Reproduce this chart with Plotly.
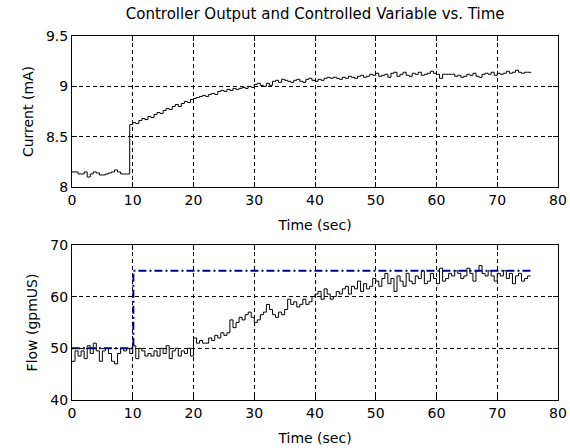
import numpy as np
import plotly.graph_objects as go

dt = 0.5
time_s = [round(i * dt, 1) for i in range(152)]

current_mA = [
    8.15, 8.15, 8.13, 8.13, 8.15, 8.10, 8.13, 8.15, 8.14, 8.12,
    8.12, 8.13, 8.14, 8.15, 8.17, 8.15, 8.13, 8.13, 8.13,
    8.62, 8.64, 8.63, 8.66, 8.68, 8.67, 8.70, 8.69, 8.72, 8.74, 8.73,
    8.76, 8.78, 8.77, 8.80, 8.82, 8.80, 8.83, 8.85, 8.84, 8.87, 8.88,
    8.89, 8.90, 8.91, 8.90, 8.92, 8.93, 8.92, 8.95, 8.96, 8.95,
    8.97, 8.96, 8.98, 8.97, 8.98, 8.99, 8.98, 9.00, 8.99, 9.02,
    9.03, 9.01, 9.00, 9.03, 9.01, 9.05, 9.06, 9.04, 9.07, 9.06,
    9.05, 9.04, 9.06, 9.07, 9.05, 9.04, 9.07, 9.08, 9.06, 9.05,
    9.07, 9.06, 9.08, 9.09, 9.08, 9.09, 9.08, 9.07, 9.09, 9.08,
    9.10, 9.09, 9.08, 9.10, 9.11, 9.09, 9.10, 9.12, 9.11, 9.13,
    9.10, 9.11, 9.12, 9.09, 9.13, 9.14, 9.10, 9.12, 9.14, 9.11,
    9.10, 9.13, 9.12, 9.14, 9.11, 9.12, 9.13, 9.15, 9.13, 9.12,
    9.08, 9.12, 9.12, 9.12, 9.12, 9.10, 9.11, 9.09, 9.10, 9.12,
    9.11, 9.13, 9.10, 9.09, 9.12, 9.13, 9.12, 9.14, 9.11, 9.13,
    9.12, 9.13, 9.15, 9.13, 9.14, 9.16, 9.14, 9.13, 9.14, 9.14, 9.13,
]

flow_gpm = [
    47.5, 49.5, 48.5, 49.5, 48.0, 50.5, 49.0, 51.0, 49.5, 47.5,
    49.5, 50.0, 49.0, 47.5, 47.0, 49.0, 50.0, 49.5, 50.0, 49.0,
    50.5, 48.0, 50.0, 49.5, 48.5, 49.0, 48.5, 49.5, 48.5, 50.0,
    49.0, 50.5, 48.0, 49.5, 50.0, 48.5, 49.5, 49.0, 50.0, 48.5, 52.0,
    51.0, 51.5, 51.0, 51.0, 52.0, 51.5, 52.5, 52.0, 53.0, 52.5,
    53.0, 55.5, 54.0, 55.0, 56.0, 55.5, 56.5, 57.0, 56.0, 55.0,
    55.5, 56.5, 57.0, 58.5, 57.5, 56.5, 56.0, 57.0, 56.5, 57.5,
    59.5, 58.5, 59.0, 58.0, 58.5, 59.5, 58.5, 59.0, 60.0, 60.5,
    61.0, 59.5, 61.5, 60.5, 59.5, 60.0, 61.0, 60.5, 61.5, 62.0,
    60.5, 62.0, 61.5, 63.0, 61.0, 62.5, 61.5, 62.0, 63.5, 63.0,
    62.0, 63.5, 64.5, 62.5, 63.5, 61.0, 64.0, 63.0, 62.0, 64.5,
    63.0, 62.5, 64.0, 63.5, 65.0, 62.5, 63.0, 64.5, 63.5, 62.5,
    65.5, 63.0, 63.5, 64.5, 64.0, 65.0, 64.5, 63.5, 64.0, 65.5,
    64.5, 63.0, 65.0, 66.0, 64.5, 64.0, 65.0, 64.0, 63.0, 64.5,
    64.0, 65.0, 63.5, 64.5, 62.5, 64.0, 64.5, 63.0, 63.5, 64.0, 64.0,
]

setpoint_t = [0, 10.1, 75.5]
setpoint_gpm = [50, 65, 65]

x_ticks = [0, 10, 20, 30, 40, 50, 60, 70, 80]
current_ticks = [8, 8.5, 9, 9.5]
current_labels = ["8", "8.5", "9", "9.5"]
flow_ticks = [40, 50, 60, 70]

FONT = "DejaVu Sans, Liberation Sans, sans-serif"

fig = go.Figure()
fig.add_trace(go.Scatter(x=time_s, y=current_mA, mode="lines", line_shape="hv",
                         line=dict(color="black", width=1), xaxis="x", yaxis="y",
                         showlegend=False))
fig.add_trace(go.Scatter(x=time_s, y=flow_gpm, mode="lines", line_shape="hv",
                         line=dict(color="black", width=1), xaxis="x2", yaxis="y2",
                         showlegend=False))
fig.add_trace(go.Scatter(x=setpoint_t, y=setpoint_gpm, mode="lines", line_shape="hv",
                         line=dict(color="#00008a", width=2, dash="8px,3px,2px,3px"),
                         xaxis="x2", yaxis="y2", showlegend=False))

axis_common = dict(showline=True, linecolor="black", linewidth=1, mirror="ticks",
                   ticks="inside", ticklen=5, tickcolor="black", automargin=False,
                   showgrid=True, gridcolor="black", gridwidth=1, griddash="4px,3px",
                   zeroline=False, tickfont=dict(family=FONT, size=14, color="black"))
title_font = dict(family=FONT, size=14, color="black")

fig.update_layout(
    width=570, height=448,
    margin=dict(l=72, r=12, t=36, b=48),
    paper_bgcolor="white", plot_bgcolor="white",
    font=dict(family=FONT, size=14, color="black"),
    title=dict(text="Controller Output and Controlled Variable vs. Time",
               x=0.553, xanchor="center", y=0.969, yanchor="middle",
               font=dict(family=FONT, size=15, color="black")),
    xaxis=dict(domain=[0, 1], anchor="y", range=[0, 80], tickvals=x_ticks,
               title=dict(text="Time (sec)", standoff=13, font=title_font), **axis_common),
    yaxis=dict(domain=[0.585, 1], anchor="x", range=[8, 9.5], tickvals=current_ticks,
               ticktext=current_labels,
               title=dict(text="Current (mA)", standoff=9, font=title_font), **axis_common),
    xaxis2=dict(domain=[0, 1], anchor="y2", range=[0, 80], tickvals=x_ticks,
                title=dict(text="Time (sec)", standoff=13, font=title_font), **axis_common),
    yaxis2=dict(domain=[0, 0.426], anchor="x2", range=[40, 70], tickvals=flow_ticks,
                title=dict(text="Flow (gpmUS)", standoff=9, font=title_font), **axis_common),
)

fig.write_html("out.html", config={"displayModeBar": False},
               post_script="document.body.style.margin='0';document.body.style.padding='0';")
